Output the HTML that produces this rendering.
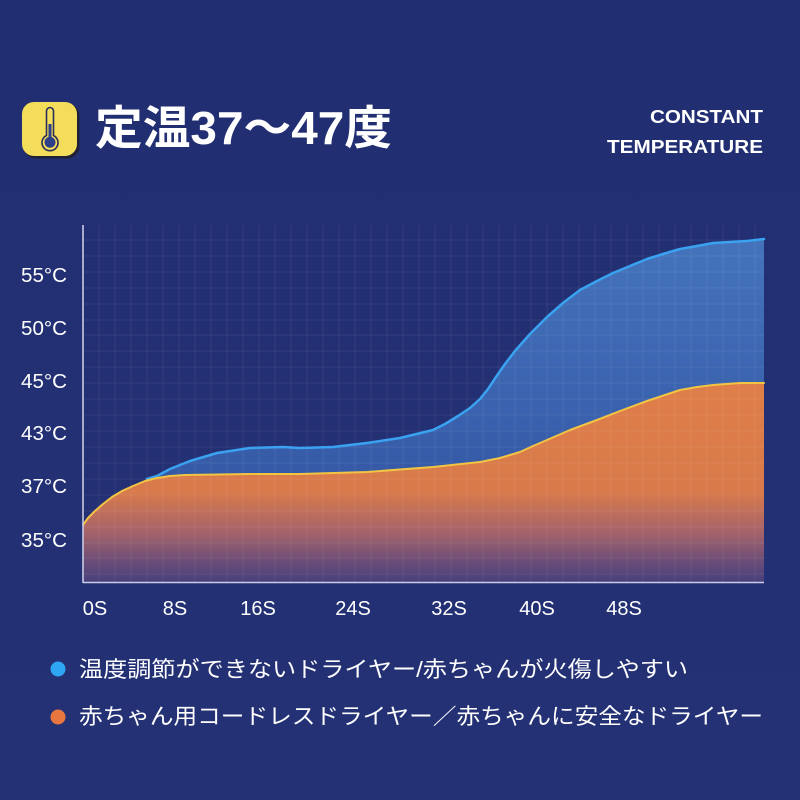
<!DOCTYPE html>
<html><head><meta charset="utf-8">
<style>
html,body{margin:0;padding:0;background:#232f73;}
svg{display:block;}
</style></head>
<body>
<svg width="800" height="800" viewBox="0 0 800 800" xmlns="http://www.w3.org/2000/svg">
<defs>
<linearGradient id="bg" x1="0" y1="0" x2="0" y2="1">
<stop offset="0" stop-color="#222e72"/><stop offset="1" stop-color="#243175"/>
</linearGradient>
<linearGradient id="blueFill" gradientUnits="userSpaceOnUse" x1="0" y1="240" x2="0" y2="582">
<stop offset="0" stop-color="#4473bb"/>
<stop offset="0.5" stop-color="#3a62ae"/>
<stop offset="1" stop-color="#2d4a98"/>
</linearGradient>
<linearGradient id="orFill" gradientUnits="userSpaceOnUse" x1="0" y1="383" x2="0" y2="582">
<stop offset="0" stop-color="#df7e48"/>
<stop offset="0.55" stop-color="#d87a4b"/>
<stop offset="0.75" stop-color="#a5636a"/>
<stop offset="0.9" stop-color="#6a4c78"/>
<stop offset="1" stop-color="#47407c"/>
</linearGradient>
</defs>
<rect width="800" height="800" fill="url(#bg)"/>

<!-- icon -->
<rect x="23.5" y="103.5" width="56" height="55" rx="12" fill="#1e1e28" opacity="0.8"/>
<rect x="22" y="102" width="55" height="54" rx="12" fill="#f3dd5b"/>
<path d="M46.5,111 a3.5,3.5 0 0 1 7,0 v24.5 a8,8 0 1 1 -7,0 z" fill="none" stroke="#2c2f57" stroke-width="1.6"/>
<path d="M48.5,124 h3 v13 a5.5,5.5 0 1 1 -3,0 z" fill="#2d3f8a"/>

<!-- title -->
<text x="95" y="144" font-family="'Liberation Sans','Noto Sans CJK JP',sans-serif" font-weight="bold" font-size="46" fill="#ffffff" textLength="297" lengthAdjust="spacingAndGlyphs">定温37～47度</text>

<text x="763" y="123" text-anchor="end" font-family="'Liberation Sans',sans-serif" font-weight="bold" font-size="18" fill="#ffffff" textLength="113" lengthAdjust="spacingAndGlyphs">CONSTANT</text>
<text x="763" y="153" text-anchor="end" font-family="'Liberation Sans',sans-serif" font-weight="bold" font-size="18" fill="#ffffff" textLength="156" lengthAdjust="spacingAndGlyphs">TEMPERATURE</text>

<!-- blue area -->
<path d="M83,525 L88,518 L95,511 L103,504 L112,497 L122,491 L133,486 L147,479 L157,476 L170,469 L190,461 L217,453 L250,448 L283,447 L300,448 L333,447 L367,443 L400,438 L433,430 L445,424 L458,416 L470,408 L480,399 L488,389 L496,377 L505,364 L515,351 L530,334 L547,317 L563,303 L580,290 L597,281 L613,273 L630,266 L647,259 L663,254 L680,249 L697,246 L713,243 L730,242 L747,241 L764,239 L764,582 L83,582 Z" fill="url(#blueFill)"/>
<!-- orange area -->
<path d="M83,525 L88,518 L95,511 L103,504 L112,497 L122,491 L133,486 L145,481 L157,478 L170,476 L185,475 L250,474 L300,474 L367,472 L433,467 L480,462 L500,458 L520,452 L533,446 L547,440 L570,430 L597,420 L620,411 L647,401 L665,395 L680,390 L697,387 L713,385 L740,383 L764,383 L764,582 L83,582 Z" fill="url(#orFill)"/>

<!-- grid -->
<g stroke="#ffffff" stroke-opacity="0.065" stroke-width="1">
<path d="M99,225V582M115,225V582M131,225V582M147,225V582M163,225V582M179,225V582M195,225V582M211,225V582M227,225V582M243,225V582M259,225V582M275,225V582M291,225V582M307,225V582M323,225V582M339,225V582M355,225V582M371,225V582M387,225V582M403,225V582M419,225V582M435,225V582M451,225V582M467,225V582M483,225V582M499,225V582M515,225V582M531,225V582M547,225V582M563,225V582M579,225V582M595,225V582M611,225V582M627,225V582M643,225V582M659,225V582M675,225V582M691,225V582M707,225V582M723,225V582M739,225V582M755,225V582"/>
<path d="M83,240H764M83,256H764M83,272H764M83,288H764M83,304H764M83,320H764M83,335H764M83,351H764M83,367H764M83,383H764M83,399H764M83,415H764M83,431H764M83,447H764M83,463H764M83,479H764M83,495H764M83,511H764M83,527H764M83,543H764M83,558H764M83,574H764"/>
</g>

<!-- lines -->
<polyline points="147,479 157,476 170,469 190,461 217,453 250,448 283,447 300,448 333,447 367,443 400,438 433,430 445,424 458,416 470,408 480,399 488,389 496,377 505,364 515,351 530,334 547,317 563,303 580,290 597,281 613,273 630,266 647,259 663,254 680,249 697,246 713,243 730,242 747,241 764,239" fill="none" stroke="#3aa2f0" stroke-width="2.5" stroke-linejoin="round" stroke-linecap="round"/>
<polyline points="83,525 88,518 95,511 103,504 112,497 122,491 133,486 145,481 157,478 170,476 185,475 250,474 300,474 367,472 433,467 480,462 500,458 520,452 533,446 547,440 570,430 597,420 620,411 647,401 665,395 680,390 697,387 713,385 740,383 764,383" fill="none" stroke="#f2c443" stroke-width="2" stroke-linejoin="round" stroke-linecap="round"/>

<!-- axes -->
<line x1="83" y1="225" x2="83" y2="583" stroke="#c9cbe3" stroke-width="1.6"/>
<line x1="83" y1="582.5" x2="764" y2="582.5" stroke="#c9cbe3" stroke-width="1.6"/>

<!-- y labels -->
<g font-family="'Liberation Sans',sans-serif" font-size="20" fill="#ffffff">
<text x="21" y="282" textLength="46" lengthAdjust="spacingAndGlyphs">55°C</text>
<text x="21" y="335" textLength="46" lengthAdjust="spacingAndGlyphs">50°C</text>
<text x="21" y="388" textLength="46" lengthAdjust="spacingAndGlyphs">45°C</text>
<text x="21" y="440" textLength="46" lengthAdjust="spacingAndGlyphs">43°C</text>
<text x="21" y="493" textLength="46" lengthAdjust="spacingAndGlyphs">37°C</text>
<text x="21" y="547" textLength="46" lengthAdjust="spacingAndGlyphs">35°C</text>
</g>
<!-- x labels -->
<g font-family="'Liberation Sans',sans-serif" font-size="20" fill="#ffffff" text-anchor="middle">
<text x="95" y="615">0S</text>
<text x="175" y="615">8S</text>
<text x="258" y="615">16S</text>
<text x="353" y="615">24S</text>
<text x="449" y="615">32S</text>
<text x="537" y="615">40S</text>
<text x="624" y="615">48S</text>
</g>

<!-- legend -->
<circle cx="58" cy="669" r="7.5" fill="#2ea6f4"/>
<circle cx="58" cy="717" r="7.5" fill="#e8773f"/>
<g font-family="'Liberation Sans','Noto Sans CJK JP',sans-serif" font-size="22" fill="#ffffff">
<text x="79" y="677" textLength="609" lengthAdjust="spacingAndGlyphs">温度調節ができないドライヤー/赤ちゃんが火傷しやすい</text>
<text x="79" y="724" textLength="684" lengthAdjust="spacingAndGlyphs">赤ちゃん用コードレスドライヤー／赤ちゃんに安全なドライヤー</text>
</g>
</svg>
</body></html>
